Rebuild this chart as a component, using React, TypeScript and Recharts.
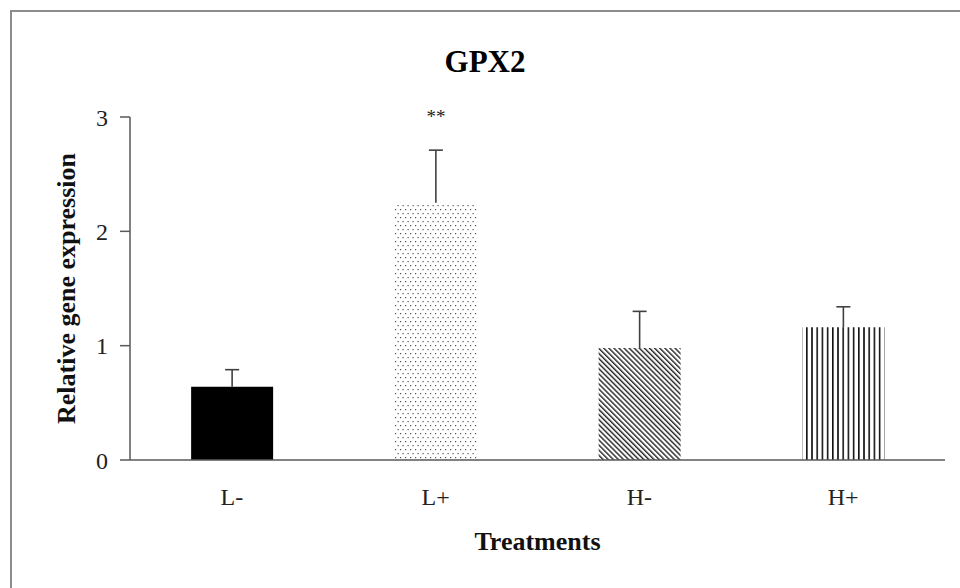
import React from "react";
import { BarChart, Bar, XAxis, YAxis, Cell, LabelList, Label } from "recharts";

const categories = ["L-", "L+", "H-", "H+"];
const means = [0.64, 2.25, 0.98, 1.16];
const errors = [0.15, 0.46, 0.32, 0.18];
const significance = ["", "**", "", ""];
const yTicks = [0, 1, 2, 3];
const fills = ["#000000", "url(#patDots)", "url(#patDiag)", "url(#patVert)"];

const data = categories.map((c, i) => ({
  name: c,
  mean: means[i],
  err: errors[i],
  sig: significance[i],
}));

const FONT = "'Liberation Serif', 'Times New Roman', serif";

const ErrShape = (props: any) => {
  const { x, y, width, height } = props;
  const cx = x + width / 2;
  return (
    <g>
      <line x1={cx} y1={y + height} x2={cx} y2={y} stroke="#404040" strokeWidth={1.6} />
      <line x1={cx - 7} y1={y} x2={cx + 7} y2={y} stroke="#404040" strokeWidth={1.6} />
    </g>
  );
};

export default function App() {
  return (
    <div style={{ position: "absolute", left: 0, top: 0, width: 960, height: 588, overflow: "hidden", background: "#fff" }}>
      <div
        style={{
          position: "absolute",
          left: 10,
          top: 10,
          width: 1000,
          height: 700,
          borderLeft: "2px solid #8c8c8c",
          borderTop: "2px solid #8c8c8c",
        }}
      />
      <div
        style={{
          position: "absolute",
          left: 385,
          width: 200,
          top: 42,
          textAlign: "center",
          fontFamily: FONT,
          fontWeight: "bold",
          fontSize: 31,
          color: "#000",
          lineHeight: "40px",
        }}
      >
        GPX2
      </div>
      <div style={{ position: "absolute", left: 0, top: 0 }}>
        <BarChart
          width={960}
          height={588}
          data={data}
          margin={{ top: 117, right: 15, bottom: 28, left: 70 }}
          barCategoryGap="30%"
        >
          <defs>
            <pattern id="patDots" patternUnits="userSpaceOnUse" width={5} height={8}>
              <rect x={0} y={1} width={1.2} height={1.2} fill="#555" />
              <rect x={2.5} y={5} width={1.2} height={1.2} fill="#555" />
            </pattern>
            <pattern id="patDiag" patternUnits="userSpaceOnUse" width={3.6} height={3.6} patternTransform="rotate(-45)">
              <rect x={0} y={0} width={1.4} height={3.6} fill="#222" />
            </pattern>
            <pattern id="patVert" patternUnits="userSpaceOnUse" width={5.2} height={10}>
              <rect x={0} y={0} width={1.6} height={10} fill="#111" />
            </pattern>
          </defs>
          <XAxis
            dataKey="name"
            height={100}
            tickLine={false}
            tickSize={0}
            tickMargin={28}
            axisLine={{ stroke: "#595959", strokeWidth: 1.5 }}
            tick={{ fontFamily: FONT, fontSize: 24, fill: "#222" }}
          >
            <Label
              content={(p: any) => {
                const vb = p.viewBox;
                return (
                  <text
                    x={vb.x + vb.width / 2}
                    y={541}
                    textAnchor="middle"
                    dominantBaseline="central"
                    fontFamily={FONT}
                    fontWeight="bold"
                    fontSize={26}
                    fill="#111"
                  >
                    Treatments
                  </text>
                );
              }}
            />
          </XAxis>
          <YAxis
            domain={[0, 3]}
            ticks={yTicks}
            width={60}
            tickSize={10}
            tickMargin={12}
            axisLine={{ stroke: "#595959", strokeWidth: 1.5 }}
            tickLine={{ stroke: "#595959", strokeWidth: 1.5 }}
            tick={{ fontFamily: FONT, fontSize: 24, fill: "#222" }}
          >
            <Label
              content={(p: any) => {
                const vb = p.viewBox;
                const cy = vb.y + vb.height / 2;
                return (
                  <text
                    x={66}
                    y={cy}
                    transform={`rotate(-90, 66, ${cy})`}
                    textAnchor="middle"
                    dominantBaseline="central"
                    fontFamily={FONT}
                    fontWeight="bold"
                    fontSize={26}
                    fill="#111"
                  >
                    Relative gene expression
                  </text>
                );
              }}
            />
          </YAxis>
          <Bar dataKey="mean" stackId="a" isAnimationActive={false}>
            {data.map((d, i) => (
              <Cell key={d.name} fill={fills[i]} />
            ))}
          </Bar>
          <Bar dataKey="err" stackId="a" isAnimationActive={false} shape={ErrShape}>
            <LabelList
              dataKey="sig"
              position="top"
              offset={27}
              style={{ fontFamily: FONT, fontSize: 19, fill: "#222" }}
            />
          </Bar>
        </BarChart>
      </div>
    </div>
  );
}
